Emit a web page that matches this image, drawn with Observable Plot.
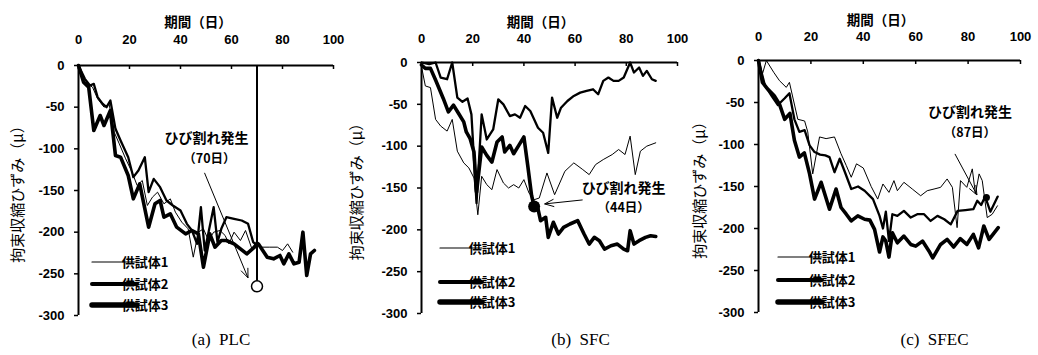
<!DOCTYPE html>
<html>
<head>
<meta charset="utf-8">
<script src="https://cdn.jsdelivr.net/npm/d3@7"></script>
<script src="https://cdn.jsdelivr.net/npm/@observablehq/plot@0.6"></script>
<style>
  body { margin: 0; background: #fff; }
  #wrap { position: relative; width: 1038px; height: 355px; overflow: hidden; background: #fff; }
  #wrap svg { position: absolute; top: 0; }
</style>
</head>
<body>
<div id="wrap"></div>
<script>
// ---- axis ticks and labels ----
const xTicks = [0, 20, 40, 60, 80, 100];
const yTicks = [0, -50, -100, -150, -200, -250, -300];
const xTitle = "期間（日）";
const yTitle = "拘束収縮ひずみ（μ）";
const specimens = ["供試体1", "供試体2", "供試体3"];
const captions = ["(a)  PLC", "(b)  SFC", "(c)  SFEC"];
const crackNote = "ひび割れ発生";
const crackDays = [70, 44, 87];
const crackStrain = [-265, -172, -163];

// ---- (a) PLC ----
const plcDay1 = [0,1.5,3.5,5.5,7.5,10,12,14,16,18.5,21,23,25,27,29,31,33.5,36,38,40.5,43,45,47,49,51,53,55.5,57.5,59,61,63.5,65.5,68,70,71.5,75,78,80,82,84];
const plcStrain1 = [0,-12,-22,-26,-40,-50,-46,-80,-94,-112,-128,-144,-138,-168,-158,-152,-166,-160,-176,-188,-196,-230,-200,-196,-210,-200,-198,-204,-214,-200,-210,-198,-220,-210,-218,-218,-218,-222,-214,-224];
const plcDay2 = [0,2.5,4.5,6,7.5,9.5,11,12.5,14.5,16.5,19.5,21.5,23.5,26,27.5,29.5,32,34.5,37,40,42.5,44.5,46.5,48,49.5,51,53,54.5,56,58,61,64,66.5,68.5,70];
const plcStrain2 = [0,-16,-24,-22,-38,-46,-50,-42,-76,-90,-110,-134,-126,-110,-152,-136,-146,-162,-168,-174,-190,-198,-214,-170,-222,-200,-170,-212,-196,-182,-184,-186,-190,-212,-216];
const plcDay3 = [0,2,4,6,8.5,10,12.5,14.5,16.5,19.5,21.5,24,27.5,30,32,33.5,36,38.5,42,44.5,47,49,51.5,53.5,56,58,61,63.5,66,69,70.5,74,76.5,79,80.5,82.5,84.5,86.5,88,89.5,91,92.5];
const plcStrain3 = [0,-20,-26,-78,-60,-72,-54,-108,-110,-132,-160,-142,-194,-166,-162,-182,-178,-194,-202,-198,-202,-242,-202,-218,-210,-210,-214,-220,-226,-218,-214,-230,-232,-228,-238,-226,-238,-236,-200,-252,-226,-222];

// ---- (b) SFC ----
const sfcDay1 = [0,1.5,3.5,5.5,7.5,10,12,14,16.5,18.5,20.5,22,23.5,25.5,27.5,29.5,32,34,36,38,40,42,44,46,49,52,56,59.5,63,65.5,68,71,74.5,77,79.5,81.5,83.5,85.5,88,91.5];
const sfcStrain1 = [-5,-28,-30,-68,-76,-82,-68,-106,-120,-126,-138,-182,-136,-146,-152,-128,-144,-150,-146,-150,-140,-156,-164,-162,-132,-158,-130,-120,-128,-134,-122,-116,-110,-104,-110,-88,-134,-106,-100,-96];
const sfcDay2 = [0,3,5.5,7.5,10,12,14,16,18,19.5,21.5,23.5,25.5,28,30,32,34.5,36.5,38.5,40.5,42.5,45.5,47.5,49.5,51,53,54.5,57,59.5,62,64.5,67,69,71,73,75,77,79,81.5,83,85,86.5,88,90,91.5];
const sfcStrain2 = [0,-2,0,-18,-20,0,-42,-47,-43,-62,-168,-62,-92,-80,-44,-50,-64,-62,-66,-52,-58,-78,-84,-108,-42,-66,-54,-46,-40,-36,-34,-32,-38,-22,-18,-22,-22,-18,0,-12,-6,-16,-10,-20,-22];
const sfcDay3 = [0,1.5,3.5,5.5,8.5,10.5,12.5,14.5,16.5,17.5,19,20.5,21.5,23.5,25.5,27.5,29.5,31.5,32.5,34.5,36,38,40,41.5,43,44,45.5,46.5,48.5,49.5,51.5,53.5,55.5,58,61,63.5,65.5,67.5,69.5,71.5,74,76.5,79,80.5,81.5,83,85,87.5,89.5,91.5];
const sfcStrain3 = [-3,-7,-7,-21,-43,-59,-51,-61,-71,-83,-91,-107,-155,-101,-111,-119,-95,-89,-107,-99,-109,-99,-89,-123,-159,-172,-175,-189,-185,-209,-191,-205,-197,-193,-189,-205,-217,-209,-213,-223,-219,-217,-223,-225,-201,-217,-213,-209,-207,-208];

// ---- (c) SFEC ----
const sfecDay1 = [0,1.5,3,5.8,8,10.6,11.8,15,17.6,18.8,20.7,23.3,25.8,29,31.5,33.5,35.4,37.4,40,43,45.5,47.5,49.8,51.7,53,55.5,58.7,61.9,64.4,67,69.5,72,74,75.8,77.1,79.5,81.6,82.8,84.2,85.4,87.3,89.2,91.2];
const sfecStrain1 = [0,-16,0,-14,-24,-32,-26,-70,-72,-85,-135,-91,-93,-91,-111,-125,-139,-123,-128,-150,-165,-147,-157,-143,-155,-145,-153,-161,-155,-153,-151,-141,-151,-199,-143,-151,-129,-159,-135,-143,-187,-183,-173];
const sfecDay2 = [0,2.5,5,7.4,10,11.8,13.7,15.6,17.6,19.5,21.4,23.5,25.5,27.1,29,31,33,35.4,38,40.5,43.7,46.2,47.5,48.6,49.8,51.1,53,55.5,58.1,60.6,63.2,65.7,68.3,70.9,73.4,76,79,82,83.5,85,86.5,88.5,91.3];
const sfecStrain2 = [0,-30,-42,-53,-45,-39,-70,-85,-83,-101,-109,-112,-113,-115,-133,-117,-133,-153,-150,-155,-165,-185,-200,-180,-215,-183,-185,-179,-187,-183,-183,-191,-185,-189,-195,-179,-178,-177,-167,-172,-162,-180,-162];
const sfecDay3 = [0,1.5,3.5,6,8,10,12,13.7,15.6,17.5,19.5,21.4,23.9,27.1,29.6,31.5,33.5,35.4,37.9,40.5,42.5,44.3,46.2,47.5,48.6,49.8,51.1,53,55.5,58.1,60,62.6,65.1,66.5,69.5,72,74.5,77,79.5,82,84,86,88,89.5,91.5];
const sfecStrain3 = [0,-26,-34,-42,-52,-70,-63,-95,-115,-110,-135,-165,-145,-177,-153,-175,-183,-191,-185,-189,-190,-201,-228,-210,-215,-234,-205,-217,-209,-219,-221,-215,-227,-235,-219,-213,-222,-212,-219,-207,-223,-197,-213,-207,-199];

const panelSeries = [
  [[plcDay1, plcStrain1], [plcDay2, plcStrain2], [plcDay3, plcStrain3]],
  [[sfcDay1, sfcStrain1], [sfcDay2, sfcStrain2], [sfcDay3, sfcStrain3]],
  [[sfecDay1, sfecStrain1], [sfecDay2, sfecStrain2], [sfecDay3, sfecStrain3]]
];

// ---- layout of the three panels ----
const W = 346, H = 355;
const layouts = [
  {left: 0,   ml: 78, mr: 13, mt: 65, mb: 40, xpad: 22, tdx: -8, tdy: -48, ydx: -60, cdx: 15, cdy: 29,
   leg: {x1: 14, x2: 59, tx: 67, ys: [197, 219, 240]}},
  {left: 346, ml: 75, mr: 15, mt: 62, mb: 42, xpad: 20, tdx: -9, tdy: -45, ydx: -64, cdx: 31, cdy: 31,
   leg: {x1: 19, x2: 61, tx: 71, ys: [186, 220, 240]}},
  {left: 692, ml: 66, mr: 18, mt: 60, mb: 43, xpad: 20, tdx: -9, tdy: -45, ydx: -58, cdx: 45, cdy: 32,
   leg: {x1: 20, x2: 64, tx: 74, ys: [197, 220, 242]}}
];
const lineWidths = [1, 2.3, 3.6];
const legendWidths = [1.2, 4, 5.5];
const jp = "'Noto Sans CJK JP', 'Noto Sans', sans-serif";
const num = "'Liberation Sans', Arial, sans-serif";

const wrap = document.getElementById("wrap");

function arrow(g, x1, y1, x2, y2) {
  const a = Math.atan2(y2 - y1, x2 - x1), L = 10, s = 0.38;
  g.append("line").attr("x1", x1).attr("y1", y1).attr("x2", x2).attr("y2", y2)
    .attr("stroke", "black").attr("stroke-width", 1);
  g.append("path")
    .attr("d", `M${x2 - L * Math.cos(a - s)},${y2 - L * Math.sin(a - s)}L${x2},${y2}L${x2 - L * Math.cos(a + s)},${y2 - L * Math.sin(a + s)}`)
    .attr("fill", "none").attr("stroke", "black").attr("stroke-width", 1);
}

layouts.forEach((lay, k) => {
  const frameH = H - lay.mt - lay.mb;
  const crack = [{day: crackDays[k], strain: crackStrain[k]}];
  const marks = [
    Plot.axisX({ticks: xTicks, anchor: "top", tickSize: 0, tickPadding: lay.xpad,
      tickFormat: d => String(d), fontSize: 13, fontWeight: "bold", fontFamily: num, label: null}),
    Plot.axisY({ticks: yTicks, anchor: "left", tickSize: 4, tickPadding: 10, strokeWidth: 1.5,
      tickFormat: d => String(d), fontSize: 13, fontWeight: "bold", fontFamily: num, label: null}),
    Plot.tickX(xTicks, {x: d => d, insetBottom: frameH - 4, strokeWidth: 1.5}),
    Plot.ruleY([0], {strokeWidth: 2}),
    Plot.ruleX([0], {strokeWidth: 2}),
    ...panelSeries[k].map(([days, strain], i) =>
      Plot.line(days.map((d, j) => ({day: d, strain: strain[j]})),
        {x: "day", y: "strain", strokeWidth: lineWidths[i], strokeLinejoin: "round", strokeLinecap: "round"})),
    Plot.text([xTitle], {frameAnchor: "top", dx: lay.tdx, dy: lay.tdy, fontSize: 13.5, fontWeight: "bold", fontFamily: jp}),
    Plot.text([yTitle], {frameAnchor: "left", textAnchor: "middle", rotate: -90, dx: lay.ydx, fontSize: 15, fontFamily: jp}),
    Plot.text([captions[k]], {frameAnchor: "bottom", dx: lay.cdx, dy: lay.cdy, fontSize: 17, letterSpacing: 1.6,
      fontFamily: "'Liberation Serif', 'DejaVu Serif', serif"})
  ];
  if (k === 0) {
    marks.push(
      Plot.ruleX(crack, {x: "day", y1: "strain", y2: 0, strokeWidth: 2, insetTop: -5}),
      Plot.dot(crack, {x: "day", y: "strain", r: 5.5, fill: "white", stroke: "black", strokeWidth: 1.5})
    );
  } else if (k === 1) {
    marks.push(Plot.dot(crack, {x: "day", y: "strain", r: 6, fill: "black"}));
  } else {
    marks.push(Plot.dot(crack, {x: "day", y: "strain", r: 3.5, fill: "black"}));
  }

  const chart = Plot.plot({
    width: W, height: H,
    marginLeft: lay.ml, marginRight: lay.mr, marginTop: lay.mt, marginBottom: lay.mb,
    x: {domain: [0, 100]},
    y: {domain: [-300, 0]},
    style: {background: "white", color: "black", overflow: "visible"},
    marks
  });
  chart.style.left = lay.left + "px";
  wrap.appendChild(chart);

  const svg = d3.select(chart);
  // legend: one sample stroke per specimen
  const lg = svg.append("g");
  specimens.forEach((name, i) => {
    const y = lay.mt + lay.leg.ys[i];
    lg.append("line").attr("x1", lay.ml + lay.leg.x1).attr("x2", lay.ml + lay.leg.x2)
      .attr("y1", y).attr("y2", y).attr("stroke", "black")
      .attr("stroke-width", legendWidths[i]).attr("stroke-linecap", "round");
    lg.append("text").attr("x", lay.ml + lay.leg.tx).attr("y", y).attr("dy", "0.35em")
      .attr("font-family", jp).attr("font-size", 13).attr("font-weight", "bold").text(name);
  });

  // crack annotation: label and arrow placed around the crack point
  const px = chart.scale("x").apply(crackDays[k]);
  const py = chart.scale("y").apply(crackStrain[k]);
  const ann = [
    {t1: [-50, -148], t2: [-47, -127], a: [-52, -113, -8.5, -8]},
    {t1: [90, -18], t2: [90, 2], a: [49, -6, 11, -2]},
    {t1: [-16, -85], t2: [-16, -64], a: [-31, -43, -9, -2]}
  ][k];
  const ag = svg.append("g");
  ag.append("text").attr("x", px + ann.t1[0]).attr("y", py + ann.t1[1]).attr("dy", "0.35em")
    .attr("text-anchor", "middle").attr("font-family", jp).attr("font-size", 14).attr("font-weight", "bold")
    .text(crackNote);
  ag.append("text").attr("x", px + ann.t2[0]).attr("y", py + ann.t2[1]).attr("dy", "0.35em")
    .attr("text-anchor", "middle").attr("font-family", jp).attr("font-size", 12.5).attr("font-weight", "bold")
    .text(`（${crackDays[k]}日）`);
  arrow(ag, px + ann.a[0], py + ann.a[1], px + ann.a[2], py + ann.a[3]);
});
</script>
</body>
</html>
